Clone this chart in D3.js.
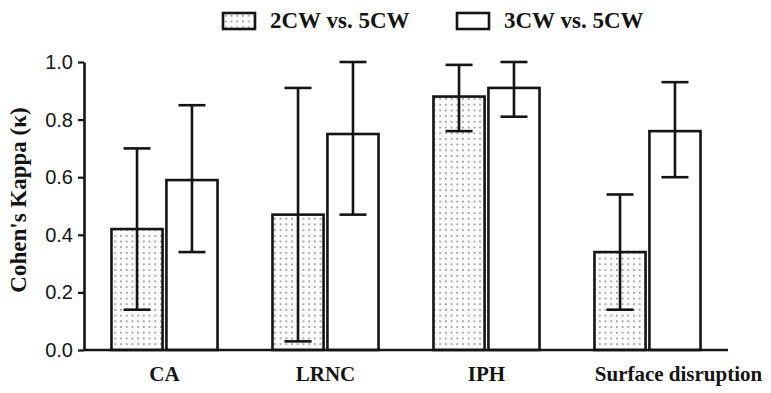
<!DOCTYPE html>
<html>
<head>
<meta charset="utf-8">
<script src="https://cdn.jsdelivr.net/npm/d3@7"></script>
<style>
  html, body { margin: 0; padding: 0; background: #fff; }
  svg { display: block; }
</style>
</head>
<body>
<div id="chart"></div>
<script>
// data
const categories = ['CA', 'LRNC', 'IPH', 'Surface disruption'];
const seriesNames = ['2CW vs. 5CW', '3CW vs. 5CW'];
const kappa2cw = [0.42, 0.47, 0.88, 0.34];
const lower2cw = [0.14, 0.03, 0.76, 0.14];
const upper2cw = [0.70, 0.91, 0.99, 0.54];
const kappa3cw = [0.59, 0.75, 0.91, 0.76];
const lower3cw = [0.34, 0.47, 0.81, 0.60];
const upper3cw = [0.85, 1.00, 1.00, 0.93];
const yTicks = [0, 0.2, 0.4, 0.6, 0.8, 1.0];

const width = 771, height = 393;
const margin = {top: 62, right: 43, bottom: 43, left: 84};
const innerW = width - margin.left - margin.right;
const innerH = height - margin.top - margin.bottom;
const serif = '"Liberation Serif", "Times New Roman", serif';
const sans = '"Liberation Sans", Arial, sans-serif';
const ink = '#141414';

const rows = [];
categories.forEach((c, i) => {
  rows.push({cat: c, s: seriesNames[0], v: kappa2cw[i], lo: lower2cw[i], hi: upper2cw[i]});
  rows.push({cat: c, s: seriesNames[1], v: kappa3cw[i], lo: lower3cw[i], hi: upper3cw[i]});
});

const svg = d3.select('#chart').append('svg')
  .attr('width', width)
  .attr('height', height);

// dotted fill
const defs = svg.append('defs');
const pat = defs.append('pattern')
  .attr('id', 'dots')
  .attr('patternUnits', 'userSpaceOnUse')
  .attr('width', 5.7)
  .attr('height', 5.7);
pat.append('rect').attr('width', 5.7).attr('height', 5.7).attr('fill', '#fbfbfb');
pat.append('circle').attr('cx', 2.8).attr('cy', 2.8).attr('r', 0.8).attr('fill', '#6e6e6e');

const fillFor = s => s === seriesNames[0] ? 'url(#dots)' : '#fff';

const g = svg.append('g')
  .attr('transform', 'translate(' + margin.left + ',' + margin.top + ')');

const x0 = d3.scaleBand().domain(categories).range([0, innerW]).padding(0);
const x1 = d3.scaleBand().domain(seriesNames).range([0, x0.bandwidth()])
  .paddingInner(0.07).paddingOuter(0.5);
const y = d3.scaleLinear().domain([0, 1]).range([innerH, 0]);

// bars
g.append('g').selectAll('rect')
  .data(rows)
  .enter().append('rect')
    .attr('x', d => x0(d.cat) + x1(d.s))
    .attr('y', d => y(d.v))
    .attr('width', x1.bandwidth())
    .attr('height', d => y(0) - y(d.v))
    .attr('fill', d => fillFor(d.s))
    .attr('stroke', ink)
    .attr('stroke-width', 2.6);

// error bars
const capW = 27;
const err = g.append('g').selectAll('g')
  .data(rows)
  .enter().append('g')
    .attr('transform', d => 'translate(' + (x0(d.cat) + x1(d.s) + x1.bandwidth() / 2) + ',0)')
    .attr('stroke', ink)
    .attr('stroke-width', 2.6);
err.append('line').attr('y1', d => y(d.lo)).attr('y2', d => y(d.hi));
err.append('line').attr('x1', -capW / 2).attr('x2', capW / 2).attr('y1', d => y(d.hi)).attr('y2', d => y(d.hi));
err.append('line').attr('x1', -capW / 2).attr('x2', capW / 2).attr('y1', d => y(d.lo)).attr('y2', d => y(d.lo));

// x axis (baseline only)
g.append('line')
  .attr('x1', 0).attr('x2', innerW)
  .attr('y1', y(0)).attr('y2', y(0))
  .attr('stroke', ink).attr('stroke-width', 2.6);

g.append('g').selectAll('text')
  .data(categories)
  .enter().append('text')
    .attr('x', (d, i) => x0(d) + x0.bandwidth() / 2 + (i === categories.length - 1 ? 31 : 0))
    .attr('y', innerH + 31)
    .attr('text-anchor', 'middle')
    .style('font-family', serif)
    .style('font-weight', 'bold')
    .style('font-size', '21px')
    .attr('fill', ink)
    .text(d => d);

// y axis
const yAxis = d3.axisLeft(y)
  .tickValues(yTicks)
  .tickFormat(d3.format('.1f'))
  .tickSizeInner(6)
  .tickSizeOuter(0)
  .tickPadding(5);

const ya = g.append('g').call(yAxis);
ya.select('.domain').attr('stroke', ink).attr('stroke-width', 2.6);
ya.selectAll('.tick line').attr('stroke', ink).attr('stroke-width', 2.2);
ya.selectAll('.tick text')
  .style('font-family', sans)
  .style('font-size', '20px')
  .attr('fill', ink);

svg.append('text')
  .attr('transform', 'translate(26,' + 200 + ') rotate(-90)')
  .attr('text-anchor', 'middle')
  .style('font-family', serif)
  .style('font-weight', 'bold')
  .style('font-size', '23px')
  .attr('fill', ink)
  .text("Cohen's Kappa (κ)");

// legend
const legendX = [223, 457];
const leg = svg.append('g').selectAll('g')
  .data(seriesNames)
  .enter().append('g')
    .attr('transform', (d, i) => 'translate(' + legendX[i] + ',13)');
leg.append('rect')
  .attr('width', 32).attr('height', 16)
  .attr('fill', d => fillFor(d))
  .attr('stroke', ink).attr('stroke-width', 2.6);
leg.append('text')
  .attr('x', 47).attr('y', 15)
  .style('font-family', serif)
  .style('font-weight', 'bold')
  .style('font-size', '23px')
  .attr('fill', ink)
  .text(d => d);
</script>
</body>
</html>
